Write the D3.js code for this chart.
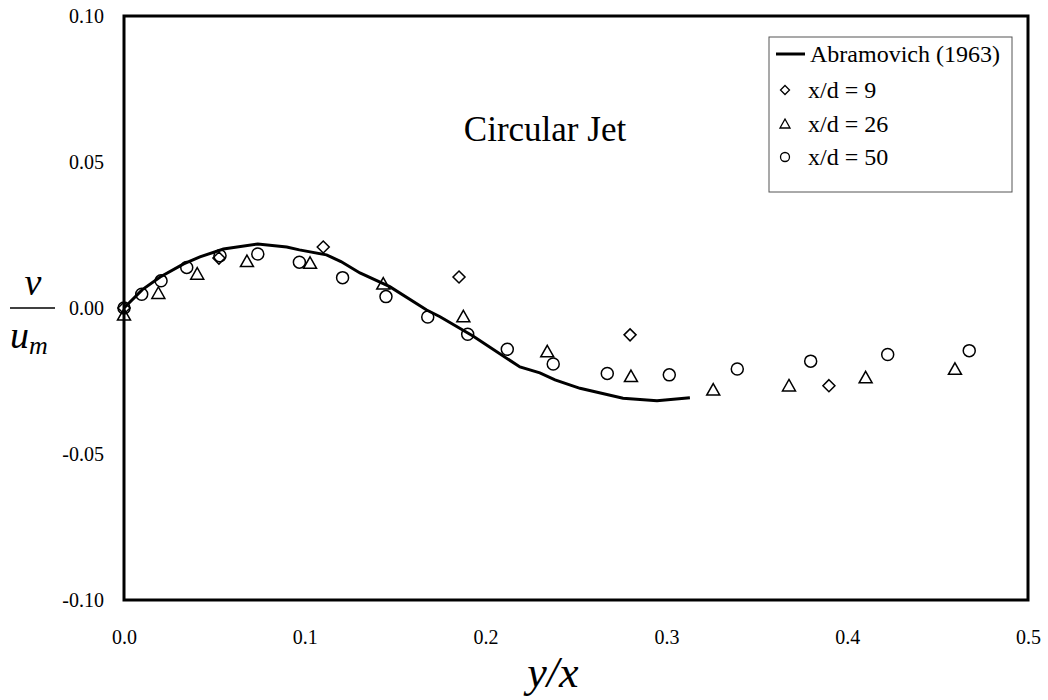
<!DOCTYPE html>
<html>
<head>
<meta charset="utf-8">
<script src="https://cdn.jsdelivr.net/npm/d3@7"></script>
<style>
  body { margin: 0; background: #fff; }
  svg text { font-family: "Liberation Serif", "Times New Roman", Times, "DejaVu Serif", serif; fill: #000; }
</style>
</head>
<body>
<div id="chart"></div>
<script>
// Abramovich (1963) theoretical curve
var theoryX = [0, 0.010, 0.020, 0.033, 0.042, 0.055, 0.074, 0.090, 0.097, 0.112, 0.120, 0.1305, 0.147, 0.1674, 0.1748, 0.193, 0.219, 0.230, 0.2384, 0.2522, 0.276, 0.2948, 0.313];
var theoryY = [0, 0.0062, 0.0106, 0.0151, 0.0175, 0.0202, 0.0219, 0.0209, 0.0199, 0.0182, 0.0159, 0.0120, 0.0073, -0.0007, -0.0030, -0.0096, -0.0202, -0.0222, -0.0246, -0.0275, -0.0309, -0.0318, -0.0307];

// x/d = 9 (diamonds)
var d9X = [0, 0.0525, 0.1102, 0.1853, 0.2799, 0.3899];
var d9Y = [0, 0.0171, 0.0209, 0.0106, -0.0092, -0.0266];

// x/d = 26 (triangles)
var d26X = [0, 0.0190, 0.0405, 0.0680, 0.1029, 0.1434, 0.1877, 0.2341, 0.2804, 0.3259, 0.3678, 0.4102, 0.4596];
var d26Y = [-0.0024, 0.0050, 0.0116, 0.0159, 0.0153, 0.0082, -0.0030, -0.0150, -0.0235, -0.0281, -0.0267, -0.0239, -0.0210];

// x/d = 50 (circles)
var d50X = [0, 0.0098, 0.0205, 0.0347, 0.0531, 0.0740, 0.0970, 0.1209, 0.1449, 0.1680, 0.1901, 0.2120, 0.2374, 0.2673, 0.3016, 0.3392, 0.3798, 0.4224, 0.4675];
var d50Y = [0, 0.0047, 0.0093, 0.0139, 0.0179, 0.0185, 0.0157, 0.0104, 0.0039, -0.0031, -0.0090, -0.0141, -0.0192, -0.0224, -0.0229, -0.0209, -0.0182, -0.0159, -0.0146];

var xTicks = [0, 0.1, 0.2, 0.3, 0.4, 0.5];
var yTicks = [-0.10, -0.05, 0, 0.05, 0.10];
var legendLabels = ["Abramovich (1963)", "x/d = 9", "x/d = 26", "x/d = 50"];

var serif = "'Liberation Serif', 'Times New Roman', Times, 'DejaVu Serif', serif";

var width = 1048, height = 700;
var margin = {top: 16, right: 20, bottom: 100, left: 124};
var plotW = 1028 - margin.left;
var plotH = 600 - margin.top;

var svg = d3.select("#chart").append("svg")
    .attr("width", width)
    .attr("height", height)
    .attr("font-family", serif);

var g = svg.append("g")
    .attr("transform", "translate(" + margin.left + "," + margin.top + ")");

var x = d3.scaleLinear().domain([0, 0.5]).range([0, plotW]);
var y = d3.scaleLinear().domain([-0.10, 0.10]).range([plotH, 0]);

// plain hyphen for negatives, like the original
var fmtX = d => d.toFixed(1);
var fmtY = d => (Math.abs(d) < 1e-9 ? 0 : d).toFixed(2);

// axes (labels only, no tick marks)
var xAxis = g.append("g")
    .attr("transform", "translate(0," + plotH + ")")
    .call(d3.axisBottom(x).tickValues(xTicks).tickSize(0).tickPadding(30).tickFormat(fmtX));
xAxis.attr("font-family", serif).attr("font-size", 20);
xAxis.select(".domain").remove();

var yAxis = g.append("g")
    .call(d3.axisLeft(y).tickValues(yTicks).tickSize(0).tickPadding(20).tickFormat(fmtY));
yAxis.attr("font-family", serif).attr("font-size", 20);
yAxis.select(".domain").remove();

// theory line
var line = d3.line()
    .x(d => x(d[0]))
    .y(d => y(d[1]));

g.append("path")
    .datum(d3.zip(theoryX, theoryY))
    .attr("d", line)
    .attr("fill", "none")
    .attr("stroke", "#000")
    .attr("stroke-width", 3);

var diamond = "M0,-6L6,0L0,6L-6,0Z";
var triangle = "M0,-6.5L6.5,5L-6.5,5Z";

function markers(xs, ys, path, isCircle) {
    var pts = d3.zip(xs, ys);
    if (isCircle) {
        g.selectAll(null).data(pts).enter().append("circle")
            .attr("cx", d => x(d[0]))
            .attr("cy", d => y(d[1]))
            .attr("r", 6)
            .attr("fill", "none")
            .attr("stroke", "#000")
            .attr("stroke-width", 1.5);
    } else {
        g.selectAll(null).data(pts).enter().append("path")
            .attr("d", path)
            .attr("transform", d => "translate(" + x(d[0]) + "," + y(d[1]) + ")")
            .attr("fill", "none")
            .attr("stroke", "#000")
            .attr("stroke-width", 1.5);
    }
}
markers(d9X, d9Y, diamond, false);
markers(d26X, d26Y, triangle, false);
markers(d50X, d50Y, null, true);

// frame
g.append("rect")
    .attr("x", 0).attr("y", 0)
    .attr("width", plotW).attr("height", plotH)
    .attr("fill", "none")
    .attr("stroke", "#000")
    .attr("stroke-width", 3);

// title
svg.append("text")
    .attr("x", 545).attr("y", 141)
    .attr("text-anchor", "middle")
    .style("font-size", "35px")
    .text("Circular Jet");

// legend
var lg = svg.append("g").attr("transform", "translate(769,37)");
lg.append("rect")
    .attr("width", 243).attr("height", 155)
    .attr("fill", "#fff")
    .attr("stroke", "#555")
    .attr("stroke-width", 1);

var rowY = [17, 53, 87, 120];
lg.append("line")
    .attr("x1", 7).attr("x2", 36)
    .attr("y1", rowY[0]).attr("y2", rowY[0])
    .attr("stroke", "#000").attr("stroke-width", 3);
lg.append("path").attr("d", "M0,-4.5L4.5,0L0,4.5L-4.5,0Z")
    .attr("transform", "translate(16," + rowY[1] + ")")
    .attr("fill", "none").attr("stroke", "#000").attr("stroke-width", 1.3);
lg.append("path").attr("d", "M0,-5L5,4L-5,4Z")
    .attr("transform", "translate(16," + rowY[2] + ")")
    .attr("fill", "none").attr("stroke", "#000").attr("stroke-width", 1.3);
lg.append("circle").attr("cx", 16).attr("cy", rowY[3]).attr("r", 4.5)
    .attr("fill", "none").attr("stroke", "#000").attr("stroke-width", 1.3);

lg.selectAll(".lbl").data(legendLabels).enter().append("text")
    .attr("class", "lbl")
    .attr("x", (d, i) => i === 0 ? 41 : 39)
    .attr("y", (d, i) => rowY[i] + 8)
    .style("font-size", "24px")
    .text(d => d);

// x axis title: y/x
svg.append("text")
    .attr("x", 553).attr("y", 687)
    .attr("text-anchor", "middle")
    .style("font-size", "44px")
    .style("font-style", "italic")
    .text("y/x");

// y axis title: v / u_m
svg.append("text")
    .attr("x", 33).attr("y", 295)
    .attr("text-anchor", "middle")
    .style("font-size", "38px")
    .style("font-style", "italic")
    .text("v");
svg.append("line")
    .attr("x1", 10).attr("x2", 55)
    .attr("y1", 308).attr("y2", 308)
    .attr("stroke", "#000").attr("stroke-width", 1.5);
var um = svg.append("text")
    .attr("x", 10).attr("y", 348)
    .style("font-size", "38px")
    .style("font-style", "italic");
um.append("tspan").text("u");
um.append("tspan").attr("dy", 6).style("font-size", "26px").text("m");
</script>
</body>
</html>
